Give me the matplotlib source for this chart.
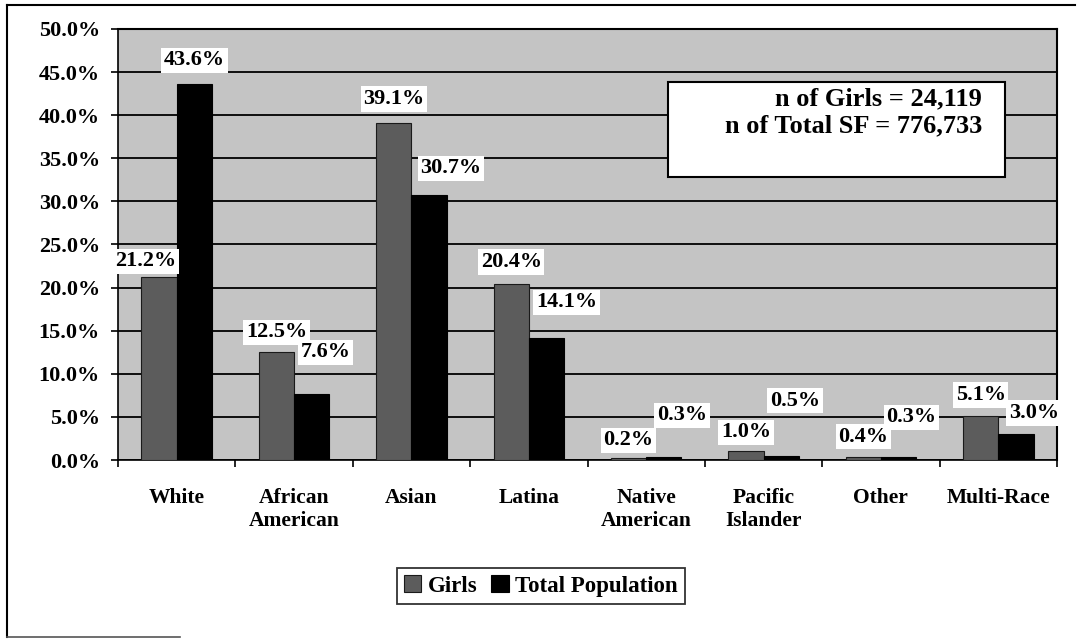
import numpy as np
import matplotlib.pyplot as plt
from matplotlib.patches import Rectangle
from matplotlib.lines import Line2D

# data (percent)
categories = ['White', 'African\nAmerican', 'Asian', 'Latina', 'Native\nAmerican',
              'Pacific\nIslander', 'Other', 'Multi-Race']
girls = [21.2, 12.5, 39.1, 20.4, 0.2, 1.0, 0.4, 5.1]
total_pop = [43.6, 7.6, 30.7, 14.1, 0.3, 0.5, 0.3, 3.0]
n_girls = '24,119'
n_total = '776,733'

# label nudges in pixels (dx, height above bar top) to mimic the hand-placed labels
girls_dx = [-13, 0, 0, 0, 0, 0, 0, 0]
girls_dy = [16, 20, 24, 22, 18, 19, 20, 21]
total_dx = [0, 14, 22, 20, 18, 14, 13, 18]
total_dy = [24, 42, 27, 36, 42, 55, 40, 21]

plt.rcParams['font.family'] = ['Liberation Serif', 'DejaVu Serif']
plt.rcParams['font.weight'] = 'bold'

fig = plt.figure(figsize=(10.83, 6.39), dpi=100)
ax = fig.add_axes([118 / 1083, 1 - 460 / 639, 939 / 1083, 431 / 639])

x = np.arange(len(categories))
w = 0.3
ax.set_facecolor('#c4c4c4')
ax.bar(x - w / 2, girls, w, color='#5c5c5c', edgecolor='#1a1a1a', linewidth=0.8,
       label='Girls', zorder=3)
ax.bar(x + w / 2, total_pop, w, color='black', edgecolor='black', linewidth=0.8,
       label='Total Population', zorder=3)

px = 72 / 100  # pixels -> points
for i in range(len(categories)):
    ax.annotate(f'{girls[i]:.1f}%', (x[i] - w / 2, girls[i]),
                xytext=(girls_dx[i] * px, girls_dy[i] * px), textcoords='offset points',
                ha='center', va='center', fontsize=16, fontweight='bold', zorder=5,
                bbox=dict(boxstyle='square,pad=0.12', fc='white', ec='none'))
    ax.annotate(f'{total_pop[i]:.1f}%', (x[i] + w / 2, total_pop[i]),
                xytext=(total_dx[i] * px, total_dy[i] * px), textcoords='offset points',
                ha='center', va='center', fontsize=16, fontweight='bold', zorder=5,
                bbox=dict(boxstyle='square,pad=0.12', fc='white', ec='none'))

ax.set_xlim(-0.5, len(categories) - 0.5)
ax.set_ylim(0, 50)
ax.set_yticks(np.arange(0, 50.1, 5))
ax.set_yticklabels([f'{v:.1f}%' for v in np.arange(0, 50.1, 5)], fontsize=16,
                   fontweight='bold')
ax.tick_params(axis='y', length=5, width=1.2, pad=8, color='black')
ax.grid(axis='y', color='black', linewidth=1.3, zorder=1)
ax.set_axisbelow(True)

ax.set_xticks(np.arange(-0.5, len(categories), 1))
ax.set_xticklabels([])
ax.tick_params(axis='x', which='major', length=5, width=1.2)
ax.set_xticks(x, minor=True)
ax.set_xticklabels(categories, minor=True, fontsize=15.5, fontweight='bold',
                   linespacing=1.2)
ax.tick_params(axis='x', which='minor', length=0, pad=20)

for s in ['top', 'right']:
    ax.spines[s].set_linewidth(1.5)
ax.spines['left'].set_linewidth(1.2)
ax.spines['bottom'].set_linewidth(1.2)

# n box
fig.patches.append(Rectangle((668 / 1083, 1 - 177 / 639), 337 / 1083, 95 / 639,
                             transform=fig.transFigure, fc='white', ec='black',
                             lw=1.5, zorder=10))
fig.text(982 / 1083, 1 - 105 / 639, f'n of Girls = {n_girls}', ha='right',
         va='baseline', fontsize=19, fontweight='bold', zorder=11)
fig.text(982 / 1083, 1 - 132 / 639, f'n of Total SF = {n_total}', ha='right',
         va='baseline', fontsize=19, fontweight='bold', zorder=11)

leg = fig.legend(loc='center', bbox_to_anchor=(541 / 1083, 1 - 586 / 639), ncol=2,
                 prop={'size': 16.5, 'weight': 'bold'}, frameon=True, fancybox=False,
                 edgecolor='black', handlelength=0.75, handleheight=0.75,
                 handletextpad=0.3, columnspacing=0.6, borderpad=0.3,
                 borderaxespad=0)
leg.get_frame().set_linewidth(1.3)

# outer frame of the scanned chart
fig.lines.append(Line2D([7 / 1083, 1075 / 1083], [1 - 5 / 639, 1 - 5 / 639],
                        transform=fig.transFigure, color='black', lw=1.5))
fig.lines.append(Line2D([7 / 1083, 7 / 1083], [1 - 5 / 639, 1 - 637 / 639],
                        transform=fig.transFigure, color='black', lw=1.5))
fig.lines.append(Line2D([7 / 1083, 180 / 1083], [1 - 637 / 639, 1 - 637 / 639],
                        transform=fig.transFigure, color='#555555', lw=1.2))

fig.savefig('out.png', dpi=100)
